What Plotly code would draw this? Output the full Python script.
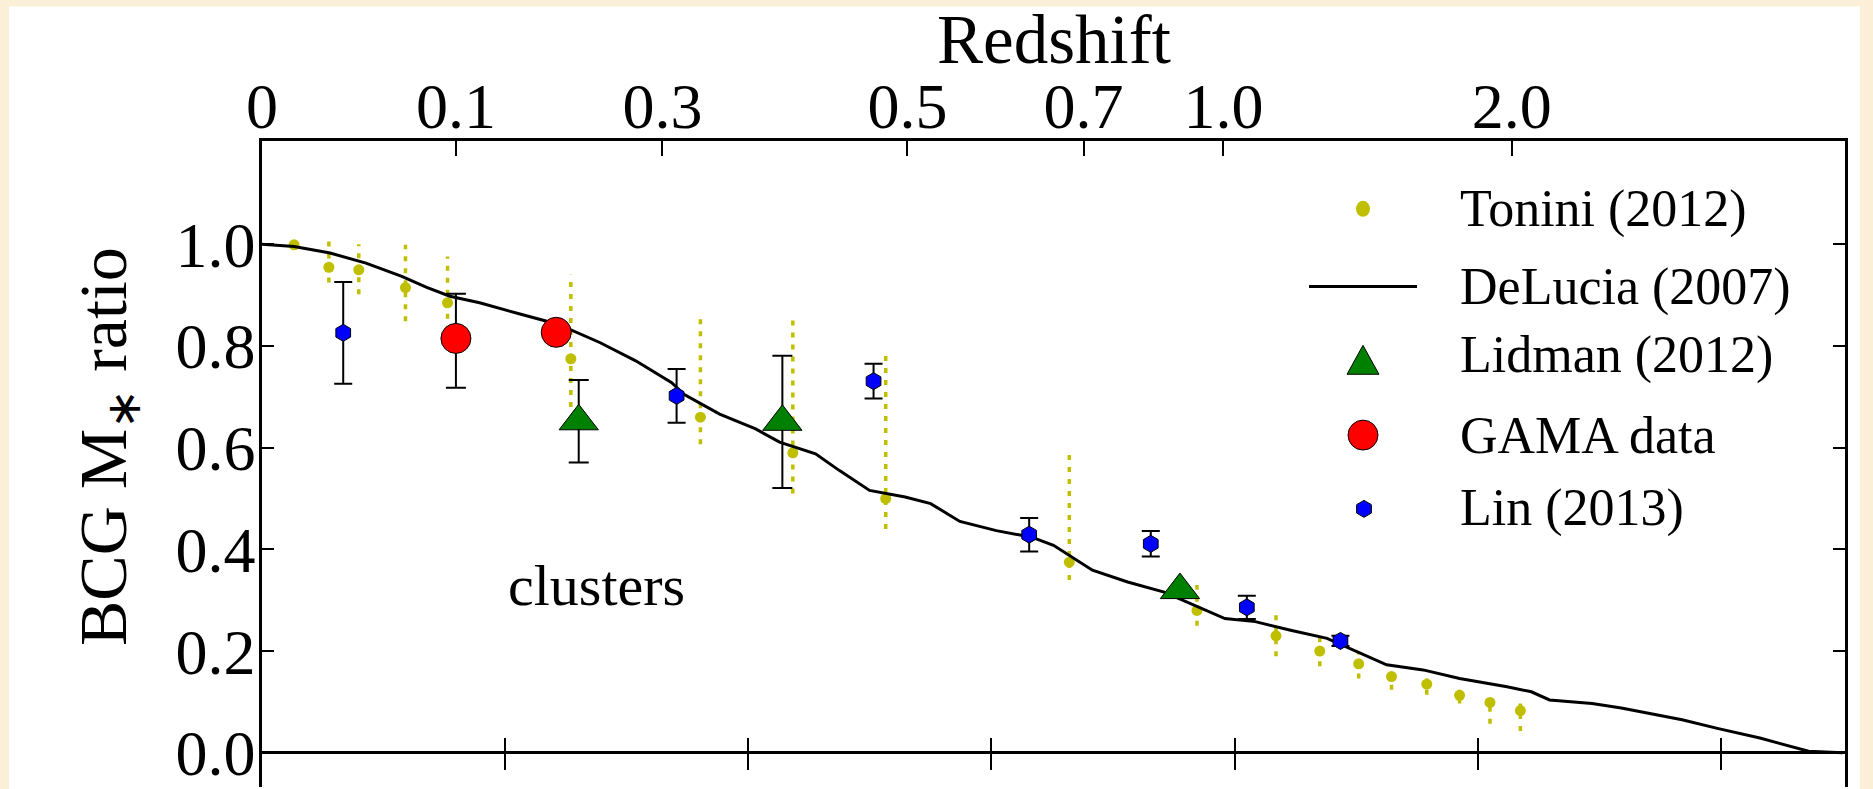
import math
import plotly.graph_objects as go

# ---------------- data (x = lookback time in Gyr, bottom axis) ----------------
tonini_x = [0.264, 0.55, 0.796, 1.18, 1.526, 2.54, 3.606, 4.366, 5.13, 6.64,
            7.69, 8.34, 8.70, 9.02, 9.29, 9.58, 9.85, 10.10, 10.35]
tonini_y = [0.999, 0.955, 0.95, 0.915, 0.885, 0.775, 0.66, 0.59, 0.50, 0.375,
            0.28, 0.23, 0.20, 0.175, 0.15, 0.135, 0.113, 0.099, 0.083]
tonini_lo = [0.995, 0.925, 0.902, 0.849, 0.83, 0.68, 0.607, 0.51, 0.44, 0.34,
             0.25, 0.19, 0.17, 0.146, 0.124, 0.114, 0.097, 0.057, 0.043]
tonini_hi = [1.003, 1.009, 1.0, 0.999, 0.976, 0.94, 0.866, 0.86, 0.79, 0.59,
             0.33, 0.28, 0.24, 0.20, 0.17, 0.146, 0.124, 0.107, 0.097]

delucia_x = [0, 0.264, 0.56, 0.855, 1.15, 1.35, 1.545, 1.79, 2.137, 2.433, 2.778,
             3.074, 3.37, 3.47, 3.764, 4.06, 4.257, 4.553, 4.75, 4.997, 5.29, 5.5,
             5.74, 6.04, 6.33, 6.51, 6.83, 7.12, 7.42, 7.67, 7.92, 8.17, 8.46, 8.76,
             9.0, 9.25, 9.55, 9.85, 10.24, 10.44, 10.59, 10.94, 11.18, 11.68, 11.97,
             12.32, 12.72, 13.0]
delucia_y = [1.0, 0.996, 0.983, 0.963, 0.937, 0.916, 0.898, 0.885, 0.862, 0.843, 0.807,
             0.771, 0.728, 0.705, 0.666, 0.637, 0.611, 0.588, 0.555, 0.516, 0.503, 0.49,
             0.455, 0.437, 0.424, 0.408, 0.359, 0.336, 0.316, 0.29, 0.264, 0.258, 0.241,
             0.225, 0.199, 0.173, 0.163, 0.146, 0.13, 0.12, 0.104, 0.097, 0.088, 0.065,
             0.048, 0.029, 0.003, 0.0]

lidman_x = [2.605, 4.28, 7.55]
lidman_y = [0.652, 0.651, 0.32]
lidman_err = [0.081, 0.13, 0.0]

gama_x = [1.595, 2.42]
gama_y = [0.815, 0.827]
gama_err_up = [0.088, 0.0]
gama_err_down = [0.097, 0.0]

lin_x = [0.668, 3.41, 5.03, 6.31, 7.31, 8.10, 8.87]
lin_y = [0.826, 0.702, 0.731, 0.429, 0.411, 0.286, 0.220]
lin_err = [0.10, 0.053, 0.034, 0.033, 0.025, 0.023, 0.01]

# top axis: redshift labels at their lookback-time positions
redshift_labels = ["0", "0.1", "0.3", "0.5", "0.7", "1.0", "2.0"]
redshift_pos = [0.0, 1.595, 3.294, 5.309, 6.757, 7.908, 10.28]
bottom_ticks = [2, 4, 6, 8, 10, 12]
y_ticks = [0.0, 0.2, 0.4, 0.6, 0.8, 1.0]
y_ticklabels = ["0.0", "0.2", "0.4", "0.6", "0.8", "1.0"]

legend_names = ["Tonini (2012)", "DeLucia (2007)", "Lidman (2012)", "GAMA data", "Lin (2013)"]

X_RANGE = [0, 13.02]
Y_RANGE = [-0.0673, 1.2033]

FONT = "Liberation Serif, Times New Roman, serif"
YELLOW = "#BFBF00"
GREEN = "#008000"
RED = "#FF0000"
BLUE = "#0000FF"

W, H = 1873, 789
ML, MR, MT, MB = 262, 28, 141, 0
PW, PH = W - ML - MR, H - MT - MB


def px_x(p):
    return (p - ML) / PW


def px_y(p):
    return (H - MB - p) / PH


fig = go.Figure()

# Tonini dotted error bars
ex, ey = [], []
for x, lo, hi in zip(tonini_x, tonini_lo, tonini_hi):
    ex += [x, x, None]
    ey += [lo, hi, None]
fig.add_trace(go.Scatter(x=ex, y=ey, mode="lines", showlegend=False, hoverinfo="skip",
                         line=dict(color=YELLOW, width=3.5, dash="5px,7px")))

fig.add_trace(go.Scatter(x=tonini_x, y=tonini_y, mode="markers", name=legend_names[0],
                         marker=dict(color=YELLOW, size=11, line=dict(width=0))))

fig.add_trace(go.Scatter(x=delucia_x, y=delucia_y, mode="lines", name=legend_names[1],
                         line=dict(color="black", width=3)))

fig.add_trace(go.Scatter(x=lidman_x, y=lidman_y, mode="markers", name=legend_names[2],
                         error_y=dict(type="data", array=lidman_err, color="black",
                                      thickness=2, width=10),
                         marker=dict(symbol="triangle-up", color=GREEN, size=34,
                                     line=dict(color="black", width=1))))

fig.add_trace(go.Scatter(x=gama_x, y=gama_y, mode="markers", name=legend_names[3],
                         error_y=dict(type="data", symmetric=False, array=gama_err_up,
                                      arrayminus=gama_err_down, color="black",
                                      thickness=2, width=10),
                         marker=dict(symbol="circle", color=RED, size=30,
                                     line=dict(color="black", width=1))))

fig.add_trace(go.Scatter(x=lin_x, y=lin_y, mode="markers", name=legend_names[4],
                         error_y=dict(type="data", array=lin_err, color="black",
                                      thickness=2, width=9),
                         marker=dict(symbol="hexagon", color=BLUE, size=17,
                                     line=dict(color="black", width=1))))

# empty traces so overlay axes are drawn
fig.add_trace(go.Scatter(x=[], y=[], xaxis="x2", yaxis="y", showlegend=False, hoverinfo="skip"))
fig.add_trace(go.Scatter(x=[], y=[], xaxis="x3", yaxis="y", showlegend=False, hoverinfo="skip"))

# ---------------- hand-drawn legend (large symbols as in the original) ----------------
LEG_SYM_X = 1363
LEG_TEXT_X = 1459
LEG_Y = [209, 287, 356, 436, 509]


def poly_path(cx, cy, pts):
    s = ""
    for i, (dx, dy) in enumerate(pts):
        s += ("M" if i == 0 else "L") + f"{px_x(cx + dx):.5f},{px_y(cy + dy):.5f} "
    return s + "Z"


shapes = [dict(type="rect", xref="paper", yref="paper", layer="below",
               x0=px_x(9), x1=px_x(1860), y0=-0.02, y1=px_y(6),
               fillcolor="white", line=dict(width=0))]

# Tonini dot
shapes.append(dict(type="circle", xref="paper", yref="paper",
                   x0=px_x(LEG_SYM_X - 7), x1=px_x(LEG_SYM_X + 7),
                   y0=px_y(LEG_Y[0] + 8), y1=px_y(LEG_Y[0] - 8),
                   fillcolor=YELLOW, line=dict(width=0)))
# DeLucia line
shapes.append(dict(type="line", xref="paper", yref="paper",
                   x0=px_x(1309), x1=px_x(1417), y0=px_y(LEG_Y[1]), y1=px_y(LEG_Y[1]),
                   line=dict(color="black", width=3)))
# Lidman triangle
shapes.append(dict(type="path", xref="paper", yref="paper",
                   path=poly_path(LEG_SYM_X, LEG_Y[2] + 5, [(0, -15), (16, 14), (-16, 14)]),
                   fillcolor=GREEN, line=dict(color="black", width=1)))
# GAMA circle
shapes.append(dict(type="circle", xref="paper", yref="paper",
                   x0=px_x(LEG_SYM_X - 15), x1=px_x(LEG_SYM_X + 15),
                   y0=px_y(LEG_Y[3] + 15), y1=px_y(LEG_Y[3] - 15),
                   fillcolor=RED, line=dict(color="black", width=1)))
# Lin hexagon
hexpts = [(8.5 * math.cos(math.radians(a)), -8.5 * math.sin(math.radians(a)))
          for a in (90, 150, 210, 270, 330, 30)]
shapes.append(dict(type="path", xref="paper", yref="paper",
                   path=poly_path(LEG_SYM_X + 1, LEG_Y[4] + 1, hexpts),
                   fillcolor=BLUE, line=dict(color="black", width=1)))

annotations = [
    dict(text="Redshift", xref="paper", yref="paper", x=0.5, y=px_y(40),
         xanchor="center", yanchor="middle", showarrow=False,
         font=dict(family=FONT, size=69, color="black")),
    dict(text="BCG M<sub>∗</sub> ratio", xref="paper", yref="paper",
         x=px_x(107), y=px_y(448), xanchor="center", yanchor="middle",
         textangle=-90, showarrow=False,
         font=dict(family=FONT, size=68, color="black")),
    dict(text="clusters", xref="x", yref="y", x=2.753, y=0.33,
         xanchor="center", yanchor="middle", showarrow=False,
         font=dict(family=FONT, size=58, color="black")),
]
for name, yy in zip(legend_names, LEG_Y):
    annotations.append(dict(text=name, xref="paper", yref="paper",
                            x=px_x(LEG_TEXT_X), y=px_y(yy), xanchor="left",
                            yanchor="middle", showarrow=False, borderpad=0,
                            font=dict(family=FONT, size=52, color="black")))

fig.update_layout(
    width=W, height=H,
    margin=dict(l=ML, r=MR, t=MT, b=MB, pad=0),
    paper_bgcolor="#FBEFD8",
    plot_bgcolor="white",
    font=dict(family=FONT, color="black"),
    showlegend=False,
    xaxis=dict(range=X_RANGE, showline=False, showgrid=False, zeroline=False,
               showticklabels=False, ticks=""),
    xaxis2=dict(range=X_RANGE, overlaying="x", side="top", anchor="y",
                tickmode="array", tickvals=redshift_pos, ticktext=redshift_labels,
                ticks="inside", ticklen=15, tickwidth=2, tickcolor="black",
                showline=True, linecolor="black", linewidth=3,
                showgrid=False, zeroline=False,
                tickfont=dict(family=FONT, size=64, color="black"),
                ticklabelstandoff=-16, ticklabeloverflow="allow"),
    xaxis3=dict(range=X_RANGE, overlaying="x", side="bottom", anchor="free",
                position=px_y(754.7 - 16),
                tickmode="array", tickvals=bottom_ticks, ticks="outside",
                ticklen=32, tickwidth=2, tickcolor="black",
                showticklabels=False, showline=False, showgrid=False, zeroline=False),
    yaxis=dict(range=Y_RANGE, tickmode="array", tickvals=y_ticks, ticktext=y_ticklabels,
               ticks="inside", ticklen=12, tickwidth=2, tickcolor="black",
               showline=True, linecolor="black", linewidth=2.5, mirror="ticks",
               showgrid=False, zeroline=True, zerolinecolor="black", zerolinewidth=3,
               tickfont=dict(family=FONT, size=64, color="black"),
               ticklabelstandoff=-9, ticklabeloverflow="allow"),
    shapes=shapes,
    annotations=annotations,
)

fig.write_html("out.html")
